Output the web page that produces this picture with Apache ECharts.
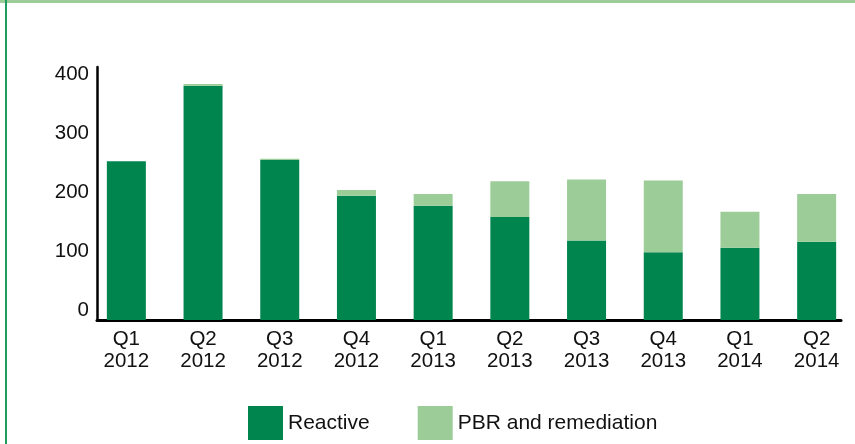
<!DOCTYPE html>
<html style="height: 100%">
<head>
    <meta charset="utf-8">
</head>
<body style="height: 100%; margin: 0; background: #fff">
<div style="position:absolute; left:0; top:0; width:855px; height:3px; background:#9ccd98"></div>
<div style="position:absolute; left:5px; top:0; width:2px; height:444px; background:#1f9b5c"></div>
<div id="container" style="position:absolute; left:0; top:0; width:855px; height:444px"></div>
<script type="text/javascript" src="https://cdn.jsdelivr.net/npm/echarts@6/dist/echarts.min.js"></script>
<script type="text/javascript">
    var categories = ['Q1\n2012', 'Q2\n2012', 'Q3\n2012', 'Q4\n2012', 'Q1\n2013',
                      'Q2\n2013', 'Q3\n2013', 'Q4\n2013', 'Q1\n2014', 'Q2\n2014'];
    var reactive = [270, 398, 272, 211, 194, 175, 135, 115, 123, 133];
    var pbr = [0, 3, 2, 10, 20, 61, 104, 122, 61, 81];
    var yTicks = [0, 100, 200, 300, 400];

    var dom = document.getElementById("container");
    var myChart = echarts.init(dom);
    var font = 'Liberation Sans, Arial, sans-serif';

    var option = {
        animation: false,
        textStyle: { fontFamily: font },
        legend: {
            left: 243,
            top: 401,
            icon: 'rect',
            itemWidth: 35,
            itemHeight: 34,
            itemGap: 48,
            textStyle: { fontSize: 21, color: '#111', fontFamily: font },
            data: ['Reactive', 'PBR and remediation']
        },
        grid: [
            // bars
            { left: 88, width: 769, top: 67, height: 253 },
            // axis lines
            { left: 97, width: 744, top: 67, height: 253 }
        ],
        xAxis: [
            {
                type: 'category',
                gridIndex: 0,
                data: categories,
                axisLine: { show: false },
                axisTick: { show: false },
                axisLabel: { fontSize: 20.5, color: '#111', lineHeight: 22, margin: 8, fontFamily: font, interval: 0 }
            },
            {
                type: 'value',
                gridIndex: 1,
                min: 0,
                max: 1,
                axisLine: { show: true, lineStyle: { color: '#000', width: 3 } },
                axisTick: { show: false },
                axisLabel: { show: false },
                splitLine: { show: false }
            }
        ],
        yAxis: [
            {
                type: 'value',
                gridIndex: 0,
                min: 0,
                max: 430,
                show: false
            },
            {
                type: 'value',
                gridIndex: 1,
                min: 0,
                max: 430,
                interval: 100,
                axisLine: { show: true, lineStyle: { color: '#000', width: 2.5 } },
                axisTick: { show: false },
                splitLine: { show: false },
                axisLabel: {
                    fontSize: 20.5, color: '#111', margin: 8, fontFamily: font,
                    showMaxLabel: false,
                    lineHeight: 20,
                    formatter: function (v) { return yTicks.indexOf(v) >= 0 ? v + '\n ' : ''; }
                }
            }
        ],
        series: [
            {
                name: 'Reactive',
                type: 'bar',
                stack: 'total',
                xAxisIndex: 0,
                yAxisIndex: 0,
                barWidth: 39,
                itemStyle: { color: '#00854f' },
                data: reactive
            },
            {
                name: 'PBR and remediation',
                type: 'bar',
                stack: 'total',
                xAxisIndex: 0,
                yAxisIndex: 0,
                barWidth: 39,
                itemStyle: { color: '#9ccd98' },
                data: pbr
            }
        ]
    };
    myChart.setOption(option, true);
</script>
</body>
</html>
